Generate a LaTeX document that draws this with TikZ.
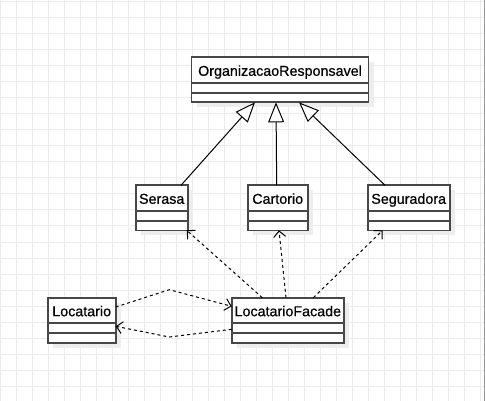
\documentclass[tikz,border=0pt]{standalone}
\usepackage{fontspec}
\setmainfont{Liberation Sans}[FakeBold=0.6]
\usetikzlibrary{arrows.meta,shadows}
\tikzset{
  gridline/.style={draw=black!8, line width=1pt},
  edgeline/.style={draw=black!40, line width=1pt},
  classbox/.style={draw=black!72, line width=1.6pt, fill=white, inner sep=0pt, outer sep=0pt,
    minimum height=45pt, anchor=north west,
    drop shadow={shadow xshift=5pt, shadow yshift=-5pt, fill=black!7, opacity=1, draw=none}},
  sepline/.style={draw=black!72, line width=1.6pt},
  nametext/.style={anchor=base, inner sep=0pt, font=\fontsize{14.3}{16}\selectfont, text=black},
  genline/.style={draw=black, line width=1pt, -{Triangle[length=20pt,width=16pt,fill=white]}},
  depline/.style={draw=black, line width=1pt, dash pattern=on 3pt off 3pt, -{Straight Barb[length=6pt,width=12pt]}},
}
\newcommand\umlcls[5]{%
  \node[classbox, minimum width=#4pt] (#1) at (#2,#3) {};
  \draw[sepline] ([yshift=-25.5pt]#1.north west) -- ([yshift=-25.5pt]#1.north east);
  \draw[sepline] ([yshift=-35.5pt]#1.north west) -- ([yshift=-35.5pt]#1.north east);
  \node[nametext] (#1-name) at ([yshift=-18.5pt]#1.north) {#5};
}
\begin{document}
\begin{tikzpicture}[x=1pt, y=-1pt]
  \useasboundingbox (0,0) rectangle (485,401);
  \fill[white] (0,0) rectangle (485,401);
  \foreach \gx in {0,16,...,480} \draw[gridline] (\gx,0) -- (\gx,401);
  \foreach \gy in {2,18,...,400} \draw[gridline] (0,\gy) -- (485,\gy);
  \draw[edgeline] (484,0) -- (484,401);

  \umlcls{org}{191.5}{57.3}{177}{OrganizacaoResponsavel}
  \umlcls{serasa}{135.7}{185.3}{52}{Serasa}
  \umlcls{cartorio}{247.7}{185.3}{60}{Cartorio}
  \umlcls{seguradora}{367.7}{185.3}{82}{Seguradora}
  \umlcls{locatario}{47.7}{297.7}{68}{Locatario}
  \umlcls{facade}{231.7}{297.7}{112.3}{LocatarioFacade}

  \draw[genline] ([xshift=45.3pt]serasa.north west) -- ([xshift=63.5pt]org.south west);
  \draw[genline] ([xshift=29pt]cartorio.north west) -- ([xshift=84.5pt]org.south west);
  \draw[genline] ([xshift=17.3pt]seguradora.north west) -- ([xshift=107.5pt]org.south west);

  \draw[depline] ([xshift=30.6pt]facade.north west) -- ([xshift=-1pt]serasa.south east);
  \draw[depline] ([xshift=54.3pt]facade.north west) -- ([xshift=31.3pt]cartorio.south west);
  \draw[depline] ([xshift=81.6pt]facade.north west) -- ([xshift=15pt]seguradora.south west);

  \coordinate (bendtop) at (169.3,289.7);
  \coordinate (bendbot) at (169.3,337);
  \draw[depline] ([yshift=-9.3pt]locatario.north east) -- (bendtop) -- ([yshift=-8.6pt]facade.north west);
  \draw[depline] ([yshift=-31.6pt]facade.north west) -- (bendbot) -- ([yshift=-28.6pt]locatario.north east);
\end{tikzpicture}
\end{document}
